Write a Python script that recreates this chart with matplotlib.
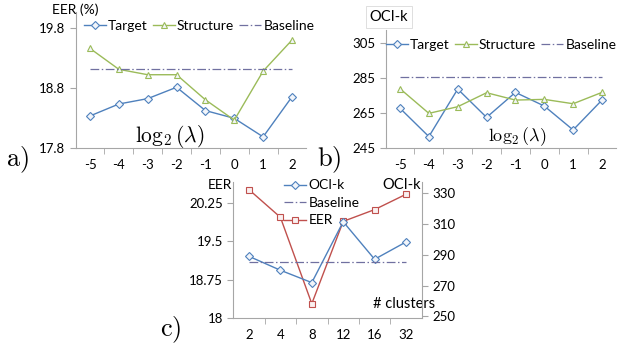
import matplotlib
matplotlib.use("Agg")
import matplotlib.pyplot as plt
from matplotlib.ticker import FixedLocator

plt.rcParams['font.family'] = ['Lato', 'DejaVu Sans']
plt.rcParams['mathtext.fontset'] = 'cm'

# panel a / b data
lam = ['-5', '-4', '-3', '-2', '-1', '0', '1', '2']
eer_target = [18.33, 18.53, 18.62, 18.81, 18.42, 18.29, 17.98, 18.65]
eer_struct = [19.46, 19.11, 19.02, 19.02, 18.60, 18.26, 19.08, 19.60]
eer_base = 19.11
oci_target = [267.5, 251.3, 278.5, 262.3, 276.6, 268.8, 255.1, 272.2]
oci_struct = [278.7, 264.6, 268.4, 276.4, 272.2, 272.6, 270.1, 276.6]
oci_base = 285.5

# panel c data
clusters = ['2', '4', '8', '12', '16', '32']
c_oci = [288.9, 279.9, 271.9, 311.3, 287.0, 298.2]
c_eer = [20.51, 19.97, 18.28, 19.89, 20.12, 20.42]
c_base = 285.0

BLUE = '#4F81BD'
GREEN = '#9BBB59'
RED = '#C0504D'
BASE = '#7070A0'
GRAY = '#A6A6A6'
FS = 9.5
LFS = 10
DASH = (0, (7, 2, 1.2, 2))

W, H = 618, 344


def add_ax(fig, x0, x1, y0, y1):
    return fig.add_axes([x0 / W, (H - y1) / H, (x1 - x0) / W, (y1 - y0) / H])


def style(ax, n, labels):
    for s in ['top', 'right']:
        ax.spines[s].set_visible(False)
    ax.spines['left'].set_color(GRAY)
    ax.spines['bottom'].set_color(GRAY)
    ax.set_xlim(0, n)
    ax.xaxis.set_major_locator(FixedLocator([i + 0.5 for i in range(n)]))
    ax.set_xticklabels(labels, fontsize=FS)
    ax.xaxis.set_minor_locator(FixedLocator(list(range(1, n))))
    ax.tick_params(axis='x', which='major', length=0, pad=8)
    ax.tick_params(axis='x', which='minor', length=4, color=GRAY, direction='out')
    ax.tick_params(axis='y', length=4, color=GRAY, labelsize=FS, direction='out')
    ax.patch.set_alpha(0)


def series(ax, xs, ys, color, marker, label, ms=4):
    ax.plot(xs, ys, color=color, lw=1, marker=marker, ms=ms,
            mfc='#F2F5FA', mec=color, mew=0.8, label=label)


def legend(ax, anchor, ncol, handles=None, labels=None):
    kw = dict(loc='center', bbox_to_anchor=anchor, ncol=ncol, frameon=False,
              fontsize=LFS, handlelength=1.6, handletextpad=0.15, columnspacing=0.35,
              labelspacing=0.4, borderpad=0, borderaxespad=0)
    if handles is None:
        ax.legend(**kw)
    else:
        ax.legend(handles, labels, **kw)


fig = plt.figure(figsize=(W / 100, H / 100), dpi=100)

xs8 = [i + 0.5 for i in range(len(lam))]

# ---- a)
ax = add_ax(fig, 75.6, 306.4, 12, 147.6)
style(ax, len(lam), lam)
series(ax, xs8, eer_target, BLUE, 'D', 'Target', ms=3.8)
series(ax, xs8, eer_struct, GREEN, '^', 'Structure', ms=5)
ax.plot([xs8[0], xs8[-1]], [eer_base] * 2, color=BASE, lw=0.9, ls=DASH, label='Baseline')
ax.set_ylim(17.8, 20.07)
ax.set_yticks([17.8, 18.8, 19.8])
ax.set_yticklabels(['17.8', '18.8', '19.8'])
legend(ax, (0.535, 0.897), 3)
ax.text(0.41, 0.08, r'$\log_2(\lambda)$', transform=ax.transAxes, fontsize=15.5,
        ha='center', va='center')
fig.text(75 / W, (H - 10) / H, 'EER (%)', fontsize=FS + 0.5, ha='center', va='center')
fig.text(17 / W, (H - 160) / H, r'$\mathrm{a)}$', fontsize=19, ha='center', va='center')

# ---- b)
ax = add_ax(fig, 385.6, 616.4, 30, 147.6)
style(ax, len(lam), lam)
series(ax, xs8, oci_target, BLUE, 'D', 'Target', ms=3.8)
series(ax, xs8, oci_struct, GREEN, '^', 'Structure', ms=5)
ax.plot([xs8[0], xs8[-1]], [oci_base] * 2, color=BASE, lw=0.9, ls=DASH, label='Baseline')
ax.set_ylim(245, 312.3)
ax.set_yticks([245, 265, 285, 305])
legend(ax, (0.5, 0.872), 3)
ax.text(0.57, 0.095, r'$\log_2(\lambda)$', transform=ax.transAxes, fontsize=13,
        ha='center', va='center')
fig.text(389 / W, (H - 17) / H, 'OCI-k', fontsize=LFS + 0.5, ha='center', va='center',
         bbox=dict(boxstyle='square,pad=0.25', fc='white', ec='#D9D9D9', lw=0.6))
fig.text(329 / W, (H - 160) / H, r'$\mathrm{b)}$', fontsize=19, ha='center', va='center')

# ---- c)
xs6 = [i + 0.5 for i in range(len(clusters))]
ax = add_ax(fig, 233.3, 421.7, 182, 318)
style(ax, len(clusters), clusters)
ax.set_ylim(18, 20.66)
ax.set_yticks([18, 18.75, 19.5, 20.25])
ax.set_yticklabels(['18', '18.75', '19.5', '20.25'])
ax2 = ax.twinx()
ax2.set_xlim(0, len(clusters))
for s in ['top', 'left', 'bottom']:
    ax2.spines[s].set_visible(False)
ax2.spines['right'].set_color(GRAY)
ax2.tick_params(axis='y', length=4, color=GRAY, labelsize=FS, direction='out')
ax2.set_ylim(249, 337)
ax2.set_yticks([250, 270, 290, 310, 330])
series(ax2, xs6, c_oci, BLUE, 'D', 'OCI-k', ms=3.8)
ax2.plot([xs6[0], xs6[-1]], [c_base] * 2, color=BASE, lw=0.9, ls=DASH, label='Baseline')
l_eer, = ax.plot(xs6, c_eer, color=RED, lw=1, marker='s', ms=3.8,
                 mfc='#FAF0F0', mec=RED, mew=0.8, label='EER')
h2, lb2 = ax2.get_legend_handles_labels()
legend(ax2, (0.47, 0.846), 1, h2 + [l_eer], lb2 + ['EER'])
ax.text(0.905, 0.1, '# clusters', transform=ax.transAxes, fontsize=LFS + 0.5,
        ha='center', va='center')
fig.text(232 / W, (H - 185) / H, 'EER', fontsize=FS + 0.5, ha='right', va='center')
fig.text(402 / W, (H - 185) / H, 'OCI-k', fontsize=LFS + 0.5, ha='center', va='center')
fig.text(171 / W, (H - 330) / H, r'$\mathrm{c)}$', fontsize=19, ha='center', va='center')

fig.savefig('out.png', dpi=100)
